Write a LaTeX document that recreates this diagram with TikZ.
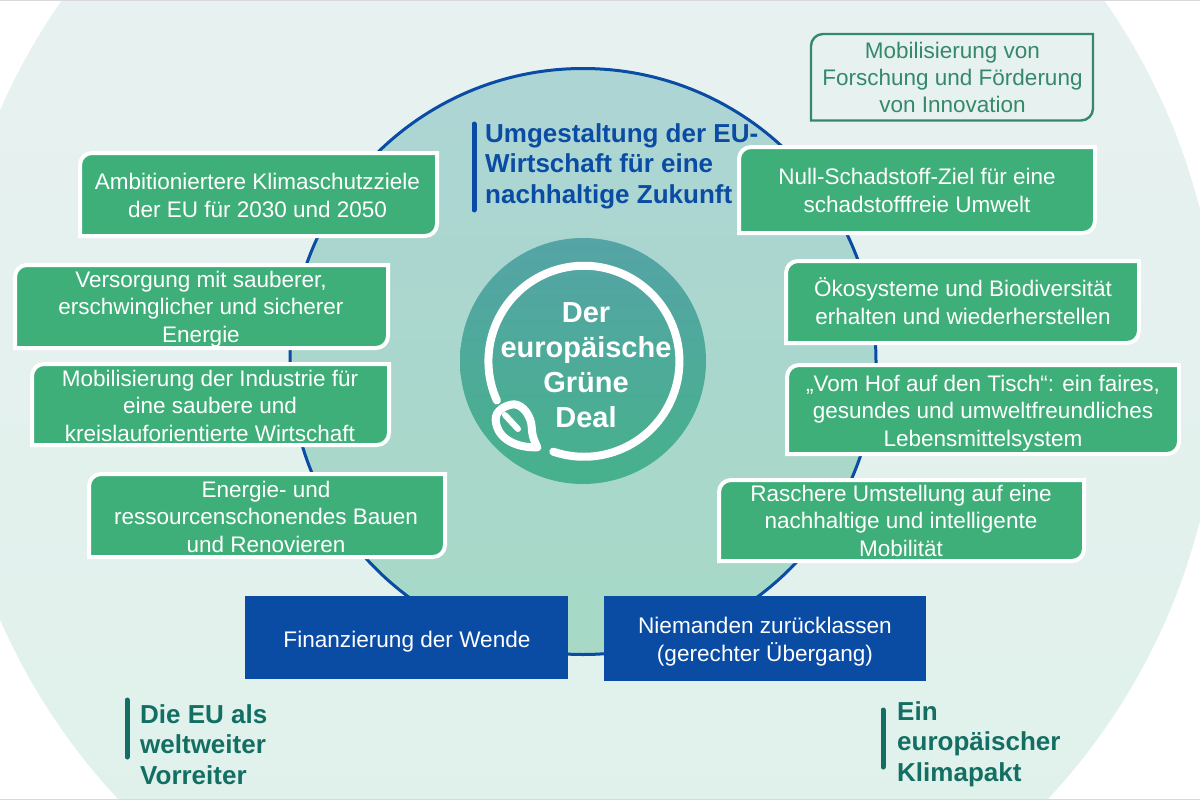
\documentclass[tikz,border=0pt]{standalone}
\usepackage{fontspec}
\setmainfont{Liberation Sans}
\definecolor{bgtop}{HTML}{EFF2F7}
\definecolor{bgbot}{HTML}{D9F0E5}
\definecolor{intop}{HTML}{B1D3DB}
\definecolor{inbot}{HTML}{A3DBBF}
\definecolor{cetop}{HTML}{5C9DB3}
\definecolor{cebot}{HTML}{3FB87F}
\definecolor{boxgreen}{HTML}{3FAF79}
\definecolor{euroblue}{HTML}{0A4BA3}
\definecolor{deepgreen}{HTML}{136F63}
\definecolor{linegreen}{HTML}{35896A}
\pgfdeclareverticalshading{bgshade}{100bp}{color(0bp)=(bgbot); color(100bp)=(bgtop)}
\pgfdeclareverticalshading{inshade}{100bp}{color(0bp)=(inbot); color(100bp)=(intop)}
\pgfdeclareverticalshading{ceshade}{100bp}{color(0bp)=(cebot); color(100bp)=(cetop)}
\tikzset{
  x=1pt,y=-1pt,
  gpanel/.style={fill=boxgreen,draw=white,line width=4pt},
  olpanel/.style={draw=linegreen,line width=2.4pt},
  bluepanel/.style={fill=euroblue},
  bodytext/.style={inner sep=0pt,anchor=base,align=center,text=white,font=\fontsize{22.5}{27.3}\selectfont},
  headtext/.style={inner sep=0pt,anchor=base west,align=left,font=\bfseries\fontsize{26}{30.5}\selectfont},
  headbar/.style={line width=5pt,line cap=round},
  ringline/.style={draw=white,line width=8pt,line cap=round,line join=round}
}
\newcommand{\petal}[5]{% style, x1,y1,x2,y2 : top-left and bottom-right corners rounded
  \path[#1] (#2,#5) [rounded corners=12pt] -- (#2,#3) [sharp corners] -- (#4,#3) [rounded corners=12pt] -- (#4,#5) [sharp corners] -- cycle;}
\begin{document}
\begin{tikzpicture}
\useasboundingbox (0,0) rectangle (1200,800);
\clip (0,0) rectangle (1200,800);
\fill[white] (0,0) rectangle (1200,800);
% large background disc
\path[shading=bgshade] (583,365) circle[radius=636pt];
\fill[black!15!white] (0,0) rectangle (1200,1.5);
\fill[black!15!white] (0,798.5) rectangle (1200,800);
% middle disc
\path[shading=inshade] (583,361.5) circle[radius=293pt];
\draw[euroblue,line width=3pt] (583,361.5) circle[radius=293pt];
% central disc
\path[shading=ceshade] (583,361) circle[radius=123pt];
\draw[ringline] (553.3,451.7) arc[start angle=251.3,delta angle=313,radius=95.5pt];
\draw[ringline] (537.3,447.3) .. controls (518,448) and (497,440) .. (495.7,420)
  .. controls (495,411) and (505,405) .. (514,404.3)
  .. controls (524,405) and (531,417) .. (531.7,426.7)
  .. controls (532,437) and (535,442) .. (537.3,447.3);
\draw[ringline,line width=6pt] (505,415) -- (518,429);
\node[bodytext,font=\bfseries\fontsize{29}{35}\selectfont] (deal) at (586,427) {Der\\europäische\\Grüne\\Deal};
% headline
\draw[headbar,euroblue] (474,124) -- (474,210);
\node[headtext,text=euroblue] (head) at (485,203) {Umgestaltung der EU-\\Wirtschaft für eine\\nachhaltige Zukunft};
% left panels
\petal{gpanel}{80}{153}{437}{236}
\node[bodytext] (ambition) at (257.5,217) {Ambitioniertere Klimaschutzziele\\der EU für 2030 und 2050};
\petal{gpanel}{15}{265}{388}{348}
\node[bodytext] (energy) at (201,342) {Versorgung mit sauberer,\\erschwinglicher und sicherer\\Energie};
\petal{gpanel}{32}{364}{389}{445}
\node[bodytext] (industry) at (210,441) {Mobilisierung der Industrie für\\eine saubere und\\kreislauforientierte Wirtschaft};
\petal{gpanel}{89}{474}{445}{557}
\node[bodytext] (build) at (266,552) {Energie- und\\ressourcenschonendes Bauen\\und Renovieren};
% right panels
\petal{olpanel}{811}{34}{1093}{120.5}
\node[bodytext,text=linegreen] (research) at (952.5,113) {Mobilisierung von\\Forschung und Förderung\\von Innovation};
\petal{gpanel}{739}{147}{1095}{233}
\node[bodytext] (zero) at (917,212) {Null-Schadstoff-Ziel für eine\\schadstofffreie Umwelt};
\petal{gpanel}{786}{261}{1139}{343}
\node[bodytext] (eco) at (963,324) {Ökosysteme und Biodiversität\\erhalten und wiederherstellen};
\petal{gpanel}{787}{365}{1179}{454}
\node[bodytext] (farm) at (983,446) {„Vom Hof auf den Tisch“: ein faires,\\gesundes und umweltfreundliches\\Lebensmittelsystem};
\petal{gpanel}{719}{480}{1084}{561}
\node[bodytext] (mobility) at (901,556) {Raschere Umstellung auf eine\\nachhaltige und intelligente\\Mobilität};
% blue panels
\fill[bluepanel] (245,596) rectangle (568,678.5);
\node[bodytext,font=\fontsize{22.6}{28}\selectfont] (finance) at (407,647) {Finanzierung der Wende};
\fill[bluepanel] (604,596) rectangle (925.5,680.5);
\node[bodytext,font=\fontsize{22.6}{28}\selectfont] (transition) at (765,661) {Niemanden zurücklassen\\(gerechter Übergang)};
% bottom headings
\draw[headbar,deepgreen] (127,700) -- (127,757);
\node[headtext,text=deepgreen] (leader) at (140,784) {Die EU als\\weltweiter\\Vorreiter};
\draw[headbar,deepgreen] (883,710) -- (883,767);
\node[headtext,text=deepgreen] (pact) at (897,781) {Ein\\europäischer\\Klimapakt};
\end{tikzpicture}
\end{document}
